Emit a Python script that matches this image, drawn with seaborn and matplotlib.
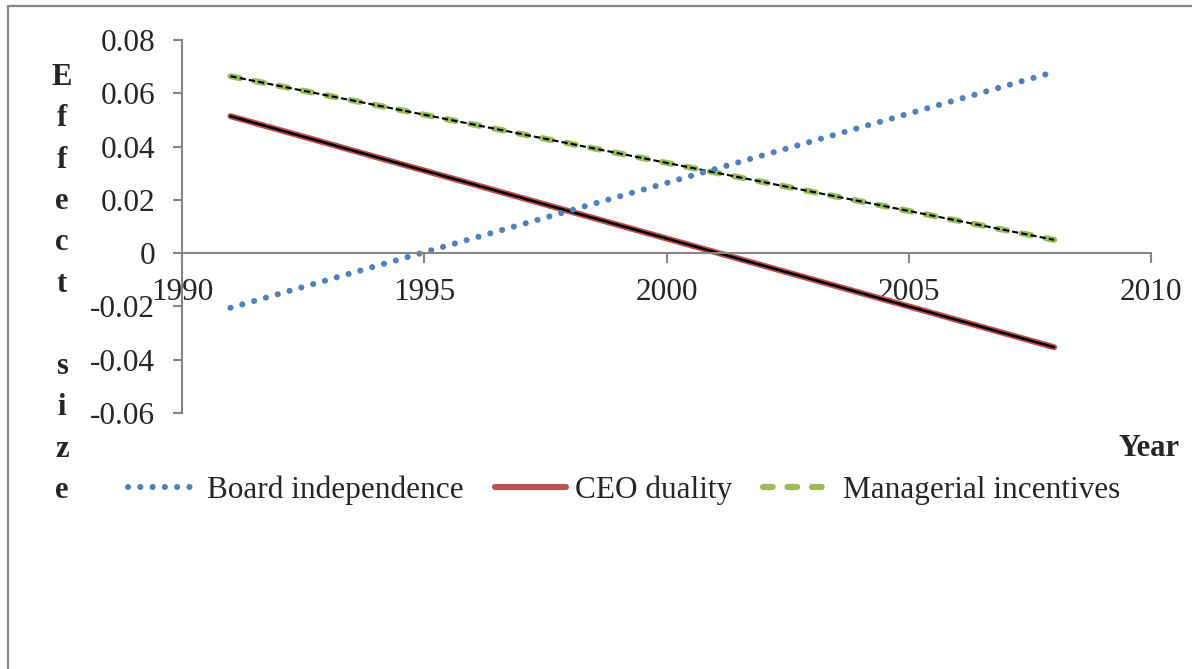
import matplotlib
matplotlib.use("Agg")
import matplotlib.pyplot as plt
from matplotlib.lines import Line2D
from matplotlib.ticker import FuncFormatter, MultipleLocator
import pandas as pd
import seaborn as sns

# ── data ─────────────────────────────────────────────────────────────────────
years      = [1991, 2008]
board      = [-0.0205, 0.068]
ceo        = [0.0514, -0.0353]
managerial = [0.0664, 0.0050]

series_names = ["Board independence", "CEO duality", "Managerial incentives"]

df = pd.DataFrame({
    "Year":   years * 3,
    "Effect": board + ceo + managerial,
    "Series": [series_names[0]] * 2 + [series_names[1]] * 2 + [series_names[2]] * 2,
})

BLUE, RED, GREEN = "#4F81BD", "#C0504D", "#9BBB59"
GREY = "#878787"

sns.set_style("white")
plt.rcParams["font.family"] = ["Liberation Serif", "DejaVu Serif"]
plt.rcParams["axes.unicode_minus"] = False
FS = 22.5

fig = plt.figure(figsize=(11.92, 6.69), dpi=100)
ax = fig.add_axes([182 / 1192, 1 - 413 / 669, (1151 - 182) / 1192, (413 - 40) / 669])

# ── lines ────────────────────────────────────────────────────────────────────
d_ceo = df[df["Series"] == "CEO duality"]
sns.lineplot(data=d_ceo, x="Year", y="Effect", ax=ax, color=RED, lw=4.4,
             solid_capstyle="round", legend=False)
sns.lineplot(data=d_ceo, x="Year", y="Effect", ax=ax, color="black", lw=1.9,
             legend=False)

d_man = df[df["Series"] == "Managerial incentives"]
sns.lineplot(data=d_man, x="Year", y="Effect", ax=ax, color=GREEN, lw=4.4,
             dash_capstyle="round", legend=False)
ax.lines[-1].set_dashes((1.6, 2.4))
sns.lineplot(data=d_man, x="Year", y="Effect", ax=ax, color="black", lw=1.5,
             legend=False)
ax.lines[-1].set_dashes((3, 1.5))

d_brd = df[df["Series"] == "Board independence"]
sns.lineplot(data=d_brd, x="Year", y="Effect", ax=ax, color=BLUE, lw=4.4,
             dash_capstyle="round", legend=False)
ax.lines[-1].set_dashes((0.01, 2.0))

# ── axes ─────────────────────────────────────────────────────────────────────
ax.set_xlim(1990, 2010)
ax.set_ylim(-0.06, 0.08)
ax.xaxis.set_major_locator(MultipleLocator(5))
ax.yaxis.set_major_locator(MultipleLocator(0.02))
ax.yaxis.set_major_formatter(FuncFormatter(lambda v, p: f"{round(v, 2):g}"))
ax.set_xlabel("")
ax.set_ylabel("")

for s in ["top", "right"]:
    ax.spines[s].set_visible(False)
ax.spines["bottom"].set_position(("data", 0))
for s in ["left", "bottom"]:
    ax.spines[s].set_color(GREY)
    ax.spines[s].set_linewidth(1.5)

ax.tick_params(axis="y", direction="out", length=6.5, width=1.5, color=GREY,
               labelsize=FS, pad=13, left=True)
ax.tick_params(axis="x", direction="out", length=7, width=1.5, color=GREY,
               labelsize=FS, pad=11, bottom=True)
ax.grid(False)

# stacked bold y label and axis title
fig.text(62 / 1192, 1 - 284 / 669, "\n".join("Effect size"), ha="center",
         va="center", fontsize=22, fontweight="bold", linespacing=1.56)
fig.text(1180 / 1192, 1 - 449 / 669, "Year", ha="right", va="center",
         fontsize=22, fontweight="bold")

# ── legend ───────────────────────────────────────────────────────────────────
handles = [
    Line2D([], [], color=BLUE, lw=4.4, dashes=(0.01, 2.0), dash_capstyle="round"),
    Line2D([], [], color=RED, lw=4.4, solid_capstyle="round"),
    Line2D([], [], color=GREEN, lw=4.4, dashes=(1.6, 2.4), dash_capstyle="round"),
]
fig.legend(handles, series_names, loc="center", ncol=3, frameon=False,
           bbox_to_anchor=(624 / 1192, 1 - 490 / 669), fontsize=FS,
           handlelength=2.25, handletextpad=0.3, columnspacing=1.0)

# outer chart frame (left and top edges visible)
x0, y1 = 8 / 1192, 1 - 6 / 669
fig.add_artist(Line2D([x0, x0], [0, y1], color=GREY, lw=1.6))
fig.add_artist(Line2D([x0, 1], [y1, y1], color=GREY, lw=1.6))

fig.savefig("out.png", dpi=100)
